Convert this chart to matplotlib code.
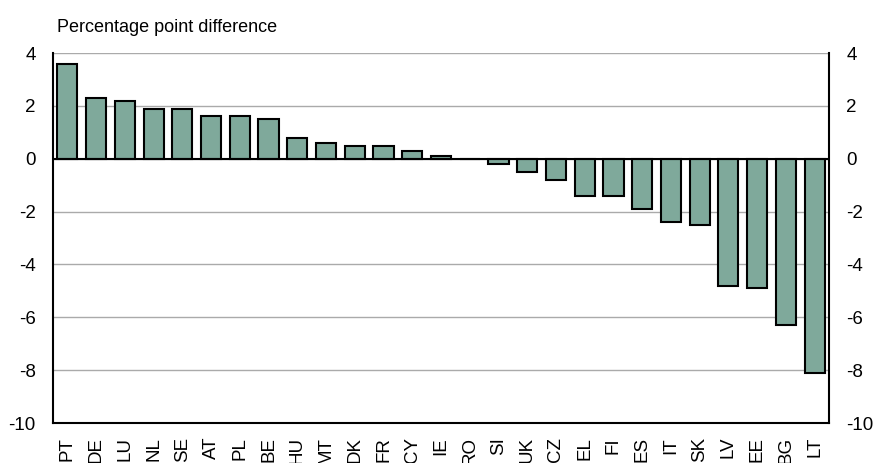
import matplotlib
matplotlib.use("Agg")
import matplotlib.pyplot as plt

countries = ["PT", "DE", "LU", "NL", "SE", "AT", "PL", "BE", "HU", "MT", "DK", "FR", "CY", "IE",
             "RO", "SI", "UK", "CZ", "EL", "FI", "ES", "IT", "SK", "LV", "EE", "BG", "LT"]
values = [3.6, 2.3, 2.2, 1.9, 1.9, 1.6, 1.6, 1.5, 0.8, 0.6, 0.5, 0.5, 0.3, 0.1,
          0.0, -0.2, -0.5, -0.8, -1.4, -1.4, -1.9, -2.4, -2.5, -4.8, -4.9, -6.3, -8.1]
yticks = [4, 2, 0, -2, -4, -6, -8, -10]

plt.rcParams['font.family'] = ['Liberation Sans', 'DejaVu Sans']

fig = plt.figure(figsize=(8.74, 4.63), dpi=100)
ax = fig.add_axes([53/874, 1 - 423/463, (829-53)/874, (423-53)/463])

x = list(range(len(countries)))
ax.bar(x, values, width=0.7, color="#7FA99B", edgecolor="black", linewidth=1.5, zorder=3)
ax.axhline(0, color="black", linewidth=1.5, zorder=4)

ax.set_xlim(-0.5, len(countries) - 0.5)
ax.set_ylim(-10, 4)
ax.set_yticks(yticks)
ax.set_yticklabels([str(v) for v in yticks], fontsize=13.5)
ax.yaxis.grid(True, color="#AAAAAA", linewidth=1, zorder=0)
ax.set_axisbelow(True)
ax.tick_params(axis='y', length=0, pad=12.5, labelright=True, right=False)
ax.set_xticks(x)
ax.set_xticklabels(countries, rotation=90, fontsize=13.5)
ax.tick_params(axis='x', length=0, pad=10)

for s in ["left", "right", "bottom"]:
    ax.spines[s].set_color("black")
    ax.spines[s].set_linewidth(1.5)
ax.spines["top"].set_visible(False)

fig.text(57/874, 1 - 27/463, "Percentage point difference", fontsize=13, ha="left", va="center")

fig.savefig("out.png", dpi=100)
